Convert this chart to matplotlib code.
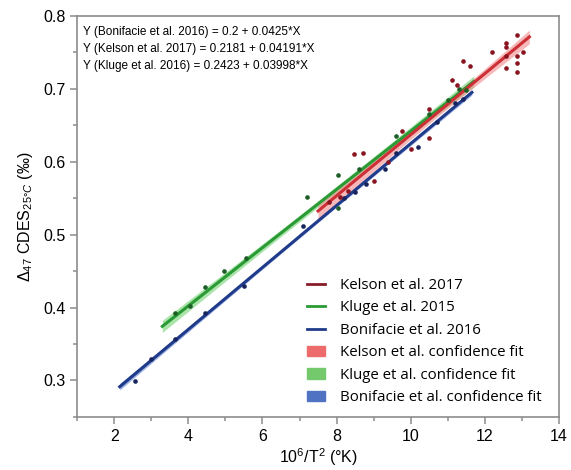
import numpy as np
import matplotlib
matplotlib.use("Agg")
import matplotlib.pyplot as plt
from matplotlib.patches import Patch
from matplotlib.lines import Line2D
from matplotlib.ticker import MultipleLocator

plt.rcParams['font.family'] = ['Liberation Sans', 'DejaVu Sans']
plt.rcParams['mathtext.fontset'] = 'custom'
plt.rcParams['mathtext.rm'] = 'Liberation Sans'
plt.rcParams['mathtext.it'] = 'Liberation Sans:italic'

# regression coefficients (intercept, slope) and x-range of each fit
bon_fit = (0.2, 0.0425)
kel_fit = (0.2181, 0.04191)
klu_fit = (0.2423, 0.03998)
bon_range = (2.15, 11.65)
kel_range = (7.5, 13.2)
klu_range = (3.3, 11.7)

# measured points, 10^6/T^2 vs D47
bon_x = [2.57, 3.0, 3.65, 4.45, 5.5, 7.1, 8.2, 8.5, 8.8, 9.3, 9.6, 10.2, 10.7, 11.2, 11.4]
bon_y = [0.299, 0.330, 0.357, 0.392, 0.430, 0.512, 0.550, 0.558, 0.570, 0.590, 0.612, 0.620, 0.655, 0.680, 0.686]

klu_x = [3.65, 4.05, 4.45, 4.95, 5.55, 7.2, 8.03, 8.03, 8.6, 9.6, 10.5, 11.0, 11.3, 11.5]
klu_y = [0.393, 0.402, 0.428, 0.450, 0.468, 0.551, 0.582, 0.536, 0.590, 0.635, 0.665, 0.685, 0.700, 0.698]

kel_x = [7.8, 8.1, 8.3, 8.46, 8.7, 9.0, 9.4, 9.76, 10.0, 10.49, 10.5, 11.1, 11.25, 11.4, 11.6,
         12.2, 12.57, 12.57, 12.57, 12.57, 12.86, 12.86, 12.86, 12.86, 13.03]
kel_y = [0.545, 0.552, 0.560, 0.610, 0.612, 0.574, 0.600, 0.642, 0.618, 0.633, 0.672, 0.712, 0.705, 0.738, 0.731,
         0.751, 0.763, 0.758, 0.745, 0.729, 0.774, 0.745, 0.736, 0.723, 0.751]

equations = ["Y (Bonifacie et al. 2016) = 0.2 + 0.0425*X",
             "Y (Kelson et al. 2017) = 0.2181 + 0.04191*X",
             "Y (Kluge et al. 2016) = 0.2423 + 0.03998*X"]


def conf_band(fit, xr, px, py, t=1.3):
    # confidence band of the mean around the given line
    px = np.asarray(px)
    py = np.asarray(py)
    resid = py - (fit[0] + fit[1] * px)
    s = np.sqrt(np.sum(resid ** 2) / (len(px) - 2))
    xm = px.mean()
    sxx = np.sum((px - xm) ** 2)
    xx = np.linspace(xr[0], xr[1], 100)
    yy = fit[0] + fit[1] * xx
    half = t * s * np.sqrt(1.0 / len(px) + (xx - xm) ** 2 / sxx)
    return xx, yy, half


fig = plt.figure(figsize=(5.71, 4.70), dpi=100)
ax = fig.add_axes([0.135, 0.113, 0.844, 0.853])

series = [
    (bon_fit, bon_range, bon_x, bon_y, '#1f3b8a', '#5d7fd3', '#17245e'),
    (klu_fit, klu_range, klu_x, klu_y, '#2a9a35', '#74d274', '#1c5e26'),
    (kel_fit, kel_range, kel_x, kel_y, '#cc2f36', '#f08a8a', '#8a1420'),
]
for fit, xr, px, py, lc, bc, pc in series:
    xx, yy, half = conf_band(fit, xr, px, py)
    ax.fill_between(xx, yy - half, yy + half, color=bc, alpha=0.6, lw=0, zorder=1)
    ax.plot(xx, yy, color=lc, lw=2.2, zorder=2)
    ax.scatter(px, py, s=11, color=pc, zorder=3, lw=0)

ax.set_xlim(1, 14)
ax.set_ylim(0.25, 0.8)
ax.xaxis.set_major_locator(MultipleLocator(2))
ax.xaxis.set_minor_locator(MultipleLocator(1))
ax.yaxis.set_major_locator(MultipleLocator(0.1))
ax.yaxis.set_minor_locator(MultipleLocator(0.05))
ax.set_yticks([0.3, 0.4, 0.5, 0.6, 0.7, 0.8])
for sp in ax.spines.values():
    sp.set_color('#8c8c8c')
    sp.set_linewidth(1.2)
ax.tick_params(which='both', color='#8c8c8c', width=1.1, labelsize=11.5)
ax.tick_params(which='major', length=5)
ax.tick_params(which='minor', length=3)

ax.set_xlabel('10$^{6}$/T$^{2}$ (°K)', fontsize=11.5, labelpad=2)
ax.set_ylabel(r'$\Delta_{47}$ CDES$_{25°C}$ (‰)', fontsize=11.5, labelpad=6)

ax.text(0.012, 0.975, "\n".join(equations), transform=ax.transAxes, va='top', ha='left',
        fontsize=8.5, linespacing=1.55)

handles = [Line2D([], [], color='#8a1c2a', lw=2),
           Line2D([], [], color='#2a9a35', lw=2),
           Line2D([], [], color='#1f3b8a', lw=2),
           Patch(color='#ee6b6b'), Patch(color='#74c96c'), Patch(color='#4f72c2')]
labels = ['Kelson et al. 2017', 'Kluge et al. 2015', 'Bonifacie et al. 2016',
          'Kelson et al. confidence fit', 'Kluge et al. confidence fit',
          'Bonifacie et al. confidence fit']
ax.legend(handles, labels, loc='lower right', frameon=False,
          prop={'family': ['Open Sans', 'DejaVu Sans'], 'size': 10.8},
          handlelength=1.2, handletextpad=1.0, labelspacing=0.5,
          bbox_to_anchor=(0.992, -0.005))

fig.savefig('out.png', dpi=100)
